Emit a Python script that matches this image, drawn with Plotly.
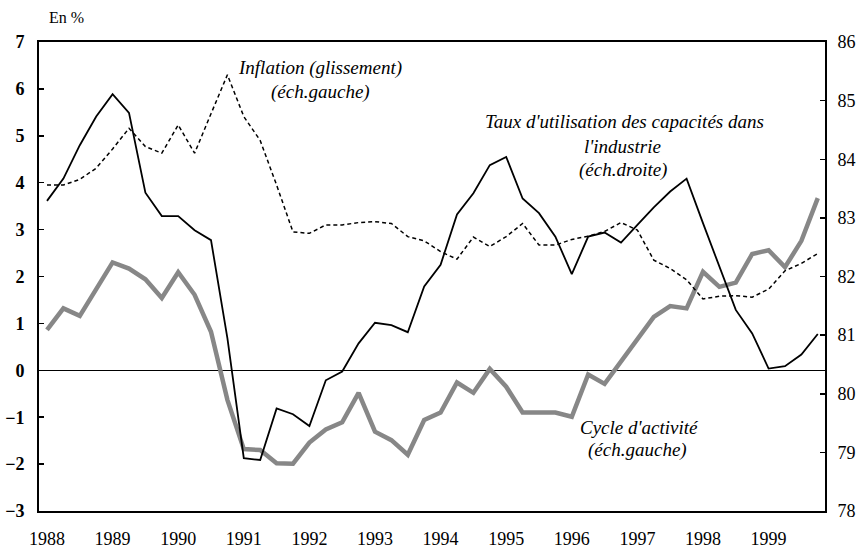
import plotly.graph_objects as go

# Quarterly data 1988Q1 .. 1999Q4
years = list(range(1988, 2000))
quarters = [y + q / 4 for y in years for q in range(4)]

cycle = [0.86, 1.32, 1.16, 1.73, 2.30, 2.17, 1.94, 1.54, 2.09, 1.61, 0.82, -0.63,
         -1.68, -1.70, -1.98, -1.99, -1.54, -1.26, -1.11, -0.48, -1.31, -1.49, -1.80, -1.06,
         -0.90, -0.26, -0.48, 0.03, -0.35, -0.90, -0.90, -0.90, -0.99, -0.09, -0.29, 0.20,
         0.68, 1.14, 1.37, 1.32, 2.10, 1.78, 1.87, 2.48, 2.56, 2.20, 2.76, 3.67]

capacite = [83.29, 83.67, 84.24, 84.73, 85.11, 84.79, 83.43, 83.03, 83.03, 82.79, 82.62, 80.95,
            78.90, 78.87, 79.75, 79.65, 79.45, 80.23, 80.38, 80.86, 81.21, 81.17, 81.05, 81.83,
            82.20, 83.06, 83.42, 83.90, 84.04, 83.33, 83.08, 82.68, 82.04, 82.68, 82.75, 82.58,
            82.88, 83.18, 83.45, 83.67, 82.91, 82.16, 81.43, 81.03, 80.43, 80.47, 80.67, 81.02]

inflation = [3.95, 3.95, 4.07, 4.31, 4.72, 5.16, 4.77, 4.63, 5.23, 4.63, 5.47, 6.30,
             5.41, 4.90, 3.95, 2.95, 2.92, 3.10, 3.10, 3.15, 3.17, 3.13, 2.85, 2.76,
             2.53, 2.37, 2.84, 2.64, 2.85, 3.13, 2.67, 2.67, 2.79, 2.86, 2.96, 3.15,
             2.99, 2.35, 2.17, 1.93, 1.52, 1.58, 1.59, 1.56, 1.73, 2.12, 2.28, 2.49]

left_ticks = list(range(-3, 8))
right_ticks = list(range(78, 87))

FONT = "'Liberation Serif', 'Times New Roman', 'DejaVu Serif', serif"

fig = go.Figure()
fig.add_trace(go.Scatter(x=quarters, y=cycle, mode="lines",
                         line=dict(color="#878787", width=4.5), yaxis="y",
                         name="Cycle d'activité"))
fig.add_trace(go.Scatter(x=quarters, y=capacite, mode="lines",
                         line=dict(color="black", width=1.8), yaxis="y2",
                         name="Taux d'utilisation"))
fig.add_trace(go.Scatter(x=quarters, y=inflation, mode="lines",
                         line=dict(color="black", width=1.5, dash="4px,3px"), yaxis="y",
                         name="Inflation"))

W, H = 861, 550
L, T = 39, 42
R = W - 825
B = H - 511
PW, PH = W - L - R, H - T - B


def px(x):
    return (x - L) / PW


def py(y):
    return (H - B - y) / PH


annots = [
    ("En %", 47, 17, "left", "normal", 16),
    ("Inflation (glissement)", 320, 68, "center", "italic", 19),
    ("(éch.gauche)", 320, 92, "center", "italic", 19),
    ("Taux d'utilisation des capacités dans", 624, 122, "center", "italic", 19),
    ("l'industrie", 622, 146, "center", "italic", 19),
    ("(éch.droite)", 623, 170, "center", "italic", 19),
    ("Cycle d'activité", 639, 427, "center", "italic", 19),
    ("(éch.gauche)", 637, 450, "center", "italic", 19),
]
for text, x, y, anchor, style, size in annots:
    fig.add_annotation(x=px(x), y=py(y), xref="paper", yref="paper", text=text,
                       showarrow=False, xanchor=anchor, yanchor="middle",
                       font=dict(family=FONT, size=size, color="black", style=style))

fig.update_layout(
    width=W, height=H,
    margin=dict(l=L, r=R, t=T, b=B, autoexpand=False),
    paper_bgcolor="white", plot_bgcolor="white",
    showlegend=False,
    font=dict(family=FONT, color="black"),
    xaxis=dict(range=[1987.878, 1999.86], tickvals=years, ticktext=[str(y) for y in years],
               showgrid=False, zeroline=False, showline=True, linecolor="black", linewidth=2,
               mirror=True, ticks="", tickfont=dict(family=FONT, size=18, color="black"),
               ticklabelstandoff=10, automargin=False),
    yaxis=dict(range=[-3, 7], tickvals=left_ticks, showgrid=False,
               zeroline=True, zerolinecolor="black", zerolinewidth=1.5,
               showline=True, linecolor="black", linewidth=2,
               ticks="inside", ticklen=5, tickwidth=1.5, tickcolor="black",
               tickfont=dict(family=FONT, size=18, color="black", weight="bold"),
               ticklabelstandoff=9, automargin=False),
    yaxis2=dict(range=[78, 86], tickvals=right_ticks, overlaying="y", side="right",
                showgrid=False, zeroline=False, showline=True, linecolor="black", linewidth=2,
                ticks="inside", ticklen=5, tickwidth=1.5, tickcolor="black",
                tickfont=dict(family=FONT, size=18, color="black"),
                ticklabelstandoff=7, automargin=False),
)

fig.write_html(
    "out.html",
    config={"displayModeBar": False, "staticPlot": True},
    post_script="document.body.style.margin='0';document.body.style.overflow='hidden';",
)
